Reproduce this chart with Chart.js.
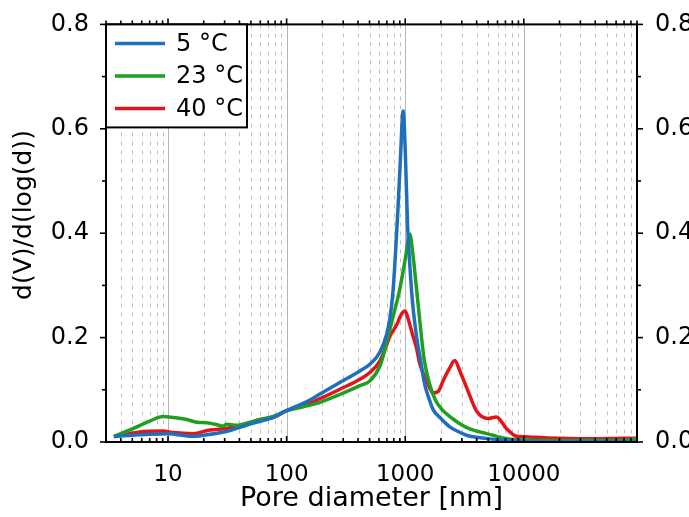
<!DOCTYPE html>
<html>
<head>
<meta charset="utf-8">
<script src="https://cdn.jsdelivr.net/npm/chart.js@4"></script>
<style>
  html, body { margin: 0; padding: 0; background: #fff; }
  canvas { display: block; }
</style>
</head>
<body>
<canvas id="poreChart" width="689" height="517"></canvas>
<script>
// pore size distributions, diameter in nm
const blueD = [3.5, 5, 7, 10, 16, 20, 31, 50, 77, 100, 150, 191, 281, 415, 503, 611, 695, 741, 790, 832, 870, 910, 960, 1000, 1045, 1100, 1150, 1250, 1350, 1462, 1610, 1718, 2000, 2377, 2800, 3283, 4000, 5166, 7000, 10000, 20000, 50000, 90000];
const blueV = [0.011, 0.013, 0.015, 0.016, 0.011, 0.013, 0.02, 0.035, 0.047, 0.06, 0.078, 0.092, 0.114, 0.136, 0.149, 0.172, 0.205, 0.235, 0.29, 0.37, 0.45, 0.54, 0.634, 0.56, 0.42, 0.33, 0.27, 0.20, 0.155, 0.11, 0.079, 0.062, 0.045, 0.029, 0.02, 0.013, 0.009, 0.006, 0.004, 0.002, 0.001, 0.001, 0.001];

const greenD = [3.5, 5, 7, 9.1, 11.1, 14.4, 17.5, 21.2, 26, 29, 31, 38, 49, 62, 77, 100, 140, 191, 281, 415, 503, 611, 652, 695, 741, 800, 902, 1000, 1094, 1160, 1245, 1330, 1440, 1610, 1800, 2084, 2500, 2884, 3500, 4842, 5500, 6266, 8000, 10000, 20000, 50000, 75000, 90000];
const greenV = [0.011, 0.025, 0.04, 0.049, 0.047, 0.043, 0.038, 0.037, 0.033, 0.03, 0.034, 0.032, 0.038, 0.044, 0.049, 0.06, 0.068, 0.076, 0.091, 0.108, 0.117, 0.145, 0.165, 0.19, 0.215, 0.245, 0.294, 0.35, 0.398, 0.36, 0.294, 0.23, 0.16, 0.11, 0.08, 0.06, 0.045, 0.035, 0.025, 0.016, 0.013, 0.009, 0.005, 0.004, 0.003, 0.003, 0.004, 0.007];

const redD = [3.5, 5.8, 9.1, 11.1, 16.3, 22.6, 31, 43, 59.6, 77, 100, 140, 191, 281, 415, 503, 611, 695, 741, 850, 930, 1000, 1060, 1153, 1245, 1327, 1514, 1718, 1900, 2084, 2350, 2617, 2900, 3283, 3983, 4990, 5870, 7130, 8660, 10000, 12000, 20000, 40000, 70000, 90000];
const redV = [0.01, 0.019, 0.021, 0.018, 0.016, 0.023, 0.026, 0.032, 0.043, 0.047, 0.06, 0.07, 0.083, 0.101, 0.12, 0.133, 0.155, 0.185, 0.202, 0.225, 0.245, 0.251, 0.235, 0.206, 0.18, 0.15, 0.117, 0.094, 0.097, 0.117, 0.14, 0.156, 0.135, 0.105, 0.06, 0.045, 0.048, 0.026, 0.011, 0.01, 0.009, 0.007, 0.006, 0.007, 0.007];

const seriesLabels = ['5 °C', '23 °C', '40 °C'];
const seriesColors = ['#1f6fbd', '#1ea01e', '#e3141c'];

const xTicks = [10, 100, 1000, 10000];
const yTicks = [0, 0.2, 0.4, 0.6, 0.8];
const yMinor = [0.1, 0.3, 0.5, 0.7];
const xMin = 3, xMax = 90000;

const FONT = 'DejaVu Sans';

// 2..9 within each decade, inside the axis range
const xMinor = [];
for (let e = 0; e <= 4; e++) {
    for (let m = 2; m <= 9; m++) {
        const v = m * Math.pow(10, e);
        if (v >= xMin && v <= xMax) xMinor.push(v);
    }
}

const toPoints = (xs, ys) => xs.map((d, i) => ({ x: d, y: ys[i] }));

const framePlugin = {
    id: 'frame',
    beforeDatasetsDraw(chart) {
        const { ctx, chartArea: a, scales: { x } } = chart;
        ctx.save();
        ctx.lineWidth = 1;
        ctx.strokeStyle = '#c0c0c0';
        ctx.setLineDash([4, 5]);
        xMinor.forEach(v => {
            const px = Math.round(x.getPixelForValue(v)) + 0.5;
            ctx.beginPath(); ctx.moveTo(px, a.top); ctx.lineTo(px, a.bottom); ctx.stroke();
        });
        ctx.setLineDash([]);
        ctx.strokeStyle = '#b4b4b4';
        xTicks.forEach(v => {
            const px = Math.round(x.getPixelForValue(v)) + 0.5;
            ctx.beginPath(); ctx.moveTo(px, a.top); ctx.lineTo(px, a.bottom); ctx.stroke();
        });
        ctx.restore();
    },
    afterDatasetsDraw(chart) {
        const { ctx, chartArea: a, scales: { x, y } } = chart;
        ctx.save();
        ctx.strokeStyle = '#000';
        ctx.lineWidth = 1.6;
        const line = (x1, y1, x2, y2) => { ctx.beginPath(); ctx.moveTo(x1, y1); ctx.lineTo(x2, y2); ctx.stroke(); };
        // y ticks point outward on both sides
        yTicks.forEach(v => {
            const py = y.getPixelForValue(v);
            line(a.left - 6, py, a.left, py);
            line(a.right, py, a.right + 6, py);
        });
        yMinor.forEach(v => {
            const py = y.getPixelForValue(v);
            line(a.left - 4, py, a.left, py);
            line(a.right, py, a.right + 4, py);
        });
        // x ticks point upward on both the bottom and top axes
        xTicks.forEach(v => {
            const px = x.getPixelForValue(v);
            line(px, a.bottom, px, a.bottom - 6);
            line(px, a.top, px, a.top - 6);
        });
        xMinor.forEach(v => {
            const px = x.getPixelForValue(v);
            line(px, a.bottom, px, a.bottom - 4);
            line(px, a.top, px, a.top - 4);
        });
        ctx.lineWidth = 2;
        ctx.strokeRect(a.left, a.top, a.right - a.left, a.bottom - a.top);
        ctx.restore();
    },
    afterDraw(chart) {
        const { ctx, chartArea: a } = chart;
        ctx.save();

        // y axis title, rotated
        ctx.translate(24, 215);
        ctx.rotate(-Math.PI / 2);
        ctx.font = `25px "${FONT}"`;
        ctx.fillStyle = '#000';
        ctx.textAlign = 'center';
        ctx.textBaseline = 'middle';
        ctx.fillText('d(V)/d(log(d))', 0, 0);
        ctx.setTransform(1, 0, 0, 1, 0, 0);

        // boxed legend in the top-left corner
        const bx = a.left, by = a.top, bw = 141, bh = 103;
        ctx.fillStyle = '#fff';
        ctx.fillRect(bx, by, bw, bh);
        ctx.strokeStyle = '#000';
        ctx.lineWidth = 2;
        ctx.strokeRect(bx, by, bw, bh);
        ctx.font = `24px "${FONT}"`;
        ctx.textAlign = 'left';
        ctx.textBaseline = 'middle';
        chart.data.datasets.forEach((ds, i) => {
            const ly = by + 19 + i * 32.5;
            ctx.strokeStyle = ds.borderColor;
            ctx.lineWidth = 3.5;
            ctx.beginPath(); ctx.moveTo(bx + 9, ly); ctx.lineTo(bx + 59, ly); ctx.stroke();
            ctx.fillStyle = '#000';
            ctx.fillText(ds.label, bx + 70, ly + 1);
        });
        ctx.restore();
    }
};

const series = [[blueD, blueV], [greenD, greenV], [redD, redV]];

new Chart(document.getElementById('poreChart'), {
    type: 'line',
    data: {
        datasets: series.map(([d, v], i) => ({
            label: seriesLabels[i],
            data: toPoints(d, v),
            borderColor: seriesColors[i],
            backgroundColor: seriesColors[i],
            borderWidth: 3.5,
            pointRadius: 0,
            cubicInterpolationMode: 'monotone',
            fill: false
        }))
    },
    options: {
        responsive: false,
        animation: false,
        devicePixelRatio: 1,
        layout: { padding: { top: 19, left: 0, right: 0, bottom: 0 } },
        plugins: { legend: { display: false }, tooltip: { enabled: false } },
        scales: {
            x: {
                type: 'logarithmic',
                position: 'bottom',
                min: xMin,
                max: xMax,
                grid: { display: false },
                border: { display: false },
                afterBuildTicks: s => { s.ticks = xTicks.map(v => ({ value: v })); },
                afterFit: s => { s.height = 75; },
                ticks: {
                    autoSkip: false,
                    maxRotation: 0,
                    padding: 11,
                    color: '#000',
                    font: { family: FONT, size: 23 },
                    callback: v => String(v)
                },
                title: {
                    display: true,
                    text: 'Pore diameter [nm]',
                    color: '#000',
                    font: { family: FONT, size: 27 },
                    padding: { top: 0, bottom: 2 }
                }
            },
            y: {
                position: 'left',
                min: 0,
                max: 0.8,
                grid: { display: false },
                border: { display: false },
                afterBuildTicks: s => { s.ticks = yTicks.map(v => ({ value: v })); },
                afterFit: s => { s.width = 106; },
                ticks: {
                    padding: 9,
                    color: '#000',
                    font: { family: FONT, size: 24 },
                    callback: v => v.toFixed(1)
                }
            },
            y2: {
                position: 'right',
                min: 0,
                max: 0.8,
                grid: { display: false },
                border: { display: false },
                afterBuildTicks: s => { s.ticks = yTicks.map(v => ({ value: v })); },
                afterFit: s => { s.width = 52; },
                ticks: {
                    padding: 10,
                    color: '#000',
                    font: { family: FONT, size: 24 },
                    callback: v => v.toFixed(1)
                }
            }
        }
    },
    plugins: [framePlugin]
});
</script>
</body>
</html>
